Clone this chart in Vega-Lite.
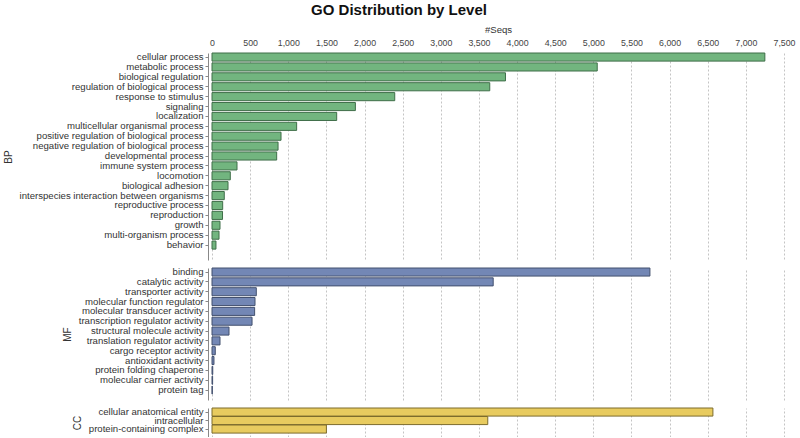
{
  "$schema": "https://vega.github.io/schema/vega-lite/v6.json",
  "padding": {"left": 3, "top": 3, "right": 5, "bottom": 0},
  "background": "#ffffff",
  "title": {"text": "GO Distribution by Level", "anchor": "middle", "frame": "bounds", "fontSize": 15, "fontWeight": "bold", "font": "Liberation Sans", "color": "#111111", "offset": 6},
  "datasets": {
    "bp": [
      {"term": "cellular process", "count": 7249},
      {"term": "metabolic process", "count": 5051},
      {"term": "biological regulation", "count": 3848},
      {"term": "regulation of biological process", "count": 3642},
      {"term": "response to stimulus", "count": 2396},
      {"term": "signaling", "count": 1880},
      {"term": "localization", "count": 1635},
      {"term": "multicellular organismal process", "count": 1110},
      {"term": "positive regulation of biological process", "count": 905},
      {"term": "negative regulation of biological process", "count": 866},
      {"term": "developmental process", "count": 848},
      {"term": "immune system process", "count": 328},
      {"term": "locomotion", "count": 240},
      {"term": "biological adhesion", "count": 210},
      {"term": "interspecies interaction between organisms", "count": 161},
      {"term": "reproductive process", "count": 140},
      {"term": "reproduction", "count": 138},
      {"term": "growth", "count": 105},
      {"term": "multi-organism process", "count": 92},
      {"term": "behavior", "count": 52}
    ],
    "mf": [
      {"term": "binding", "count": 5742},
      {"term": "catalytic activity", "count": 3687},
      {"term": "transporter activity", "count": 581},
      {"term": "molecular function regulator", "count": 564},
      {"term": "molecular transducer activity", "count": 559},
      {"term": "transcription regulator activity", "count": 525},
      {"term": "structural molecule activity", "count": 223},
      {"term": "translation regulator activity", "count": 105},
      {"term": "cargo receptor activity", "count": 43},
      {"term": "antioxidant activity", "count": 26},
      {"term": "protein folding chaperone", "count": 10},
      {"term": "molecular carrier activity", "count": 8},
      {"term": "protein tag", "count": 4}
    ],
    "cc": [
      {"term": "cellular anatomical entity", "count": 6568},
      {"term": "intracellular", "count": 3616},
      {"term": "protein-containing complex", "count": 1500}
    ]
  },
  "spacing": 6,
  "vconcat": [
    {
      "data": {"name": "bp"},
      "width": 572,
      "height": 207,
      "mark": {"type": "bar", "fill": "#72b57f", "stroke": "#3f6e49", "strokeWidth": 1},
      "encoding": {
        "y": {"field": "term", "type": "nominal", "sort": null, "title": "BP",
              "scale": {"paddingInner": 0.18, "paddingOuter": 0.55, "align": 0}},
        "x": {"field": "count", "type": "quantitative", "title": "#Seqs",
              "scale": {"domain": [0, 7500], "nice": false},
              "axis": {"orient": "top", "format": ",.0f", "labelOverlap": false, "values": [0,500,1000,1500,2000,2500,3000,3500,4000,4500,5000,5500,6000,6500,7000,7500], "ticks": false, "domain": false, "labelPadding": 6, "titlePadding": 4}}
      }
    },
    {
      "data": {"name": "mf"},
      "width": 572,
      "height": 132,
      "mark": {"type": "bar", "fill": "#7387b5", "stroke": "#43506e", "strokeWidth": 1},
      "encoding": {
        "y": {"field": "term", "type": "nominal", "sort": null, "title": "MF",
              "scale": {"paddingInner": 0.18, "paddingOuter": 0.3, "align": 0}},
        "x": {"field": "count", "type": "quantitative",
              "scale": {"domain": [0, 7500], "nice": false},
              "axis": {"values": [0,500,1000,1500,2000,2500,3000,3500,4000,4500,5000,5500,6000,6500,7000,7500], "labels": false, "ticks": false, "domain": false, "title": null}}
      }
    },
    {
      "data": {"name": "cc"},
      "width": 572,
      "height": 29,
      "mark": {"type": "bar", "fill": "#e8cb5f", "stroke": "#7d6c2c", "strokeWidth": 1},
      "encoding": {
        "y": {"field": "term", "type": "nominal", "sort": null, "title": "CC",
              "scale": {"paddingInner": 0.05, "paddingOuter": 0.23, "align": 0}},
        "x": {"field": "count", "type": "quantitative",
              "scale": {"domain": [0, 7500], "nice": false},
              "axis": {"values": [0,500,1000,1500,2000,2500,3000,3500,4000,4500,5000,5500,6000,6500,7000,7500], "labels": false, "ticks": false, "domain": false, "title": null}}
      }
    }
  ],
  "config": {
    "view": {"stroke": null},
    "font": "Liberation Sans",
    "axis": {
      "labelFont": "Liberation Sans",
      "titleFont": "Liberation Sans",
      "labelColor": "#333333",
      "titleColor": "#333333",
      "titleFontWeight": "normal",
      "gridColor": "#c4c4c4",
      "gridDash": [2, 2],
      "gridWidth": 1
    },
    "axisX": {"labelFontSize": 8.8, "titleFontSize": 9.6, "labelColor": "#444444", "labelFlush": false},
    "axisY": {"labelFontSize": 9.6, "titleFontSize": 10, "grid": false, "domainColor": "#888888", "tickColor": "#888888", "tickSize": 3, "labelPadding": 2, "offset": 4, "titlePadding": 6, "labelLimit": 300, "labelOverlap": false}
  }
}
